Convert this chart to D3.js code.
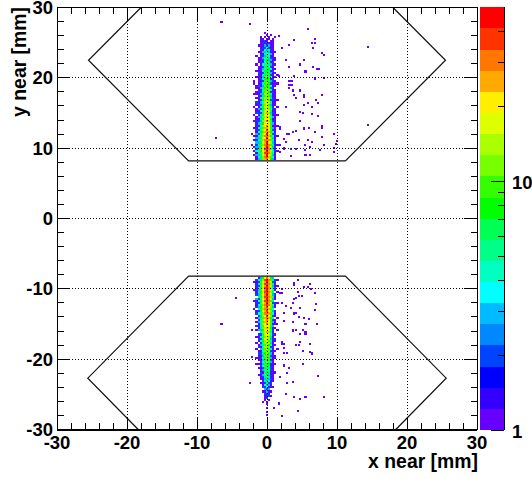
<!DOCTYPE html>
<html><head><meta charset="utf-8">
<script src="https://cdnjs.cloudflare.com/ajax/libs/d3/7.8.5/d3.min.js"></script>
<style>html,body{margin:0;padding:0;background:#fff}svg{display:block}text{font-family:"Liberation Sans",Arial,sans-serif;font-weight:bold;fill:#000}</style>
</head><body><script>
const xTickLabels=[-30,-20,-10,0,10,20,30];
const yTickLabels=[-30,-20,-10,0,10,20,30];
const xTitle="x near [mm]", yTitle="y near [mm]";
const paletteColors=["#6600ff","#3300ff","#0000ff","#0044ff","#0088ff","#00bbff","#00ffff","#00ffc0","#00ff88","#00ff55","#00ff00","#33ff00","#77ff00","#aaff00","#ddff00","#ffee00","#ffaa00","#ff7700","#ff3300","#ff0000"];
const paletteTicks=[1,2,3,4,5,6,7,8,9,10,20,30,40];
const acceptanceLines=[
 [[-18,30],[-25.5,22.5],[-11.2,8.2],[11.2,8.2],[25.5,22.5],[18,30]],
 [[-18.4,-30],[-25.6,-22.7],[-11.2,-8.2],[11.2,-8.2],[25.6,-22.7],[18.4,-30]]
];
const binColumns=[-2.1,-1.8,-1.5,-1.2,-.9,-.6,-.3,0,.3,.6,.9,1.2,1.5,1.8,2.1];
const upperTopRow=26.4;
const upperRows=[
[0,0,0,0,0,0,1,0,0,0,0,0,0,0,0],
[0,0,0,0,0,0,0,1,0,1,0,0,0,0,0],
[0,0,0,0,1,0,1,0,1,0,0,1,0,0,0],
[0,0,0,0,1,1,0,1,1,0,1,0,0,0,0],
[0,0,0,0,1,1,2,1,0,1,1,0,0,0,0],
[0,0,0,0,1,2,1,2,1,1,1,0,0,0,0],
[0,0,0,1,1,1,3,2,3,1,1,0,0,0,0],
[0,0,0,0,1,2,2,4,2,1,1,0,0,0,0],
[0,0,0,0,2,1,4,3,5,2,1,0,0,0,0],
[0,0,0,1,1,3,3,5,3,1,1,1,0,0,0],
[0,0,0,0,1,1,5,4,4,3,1,0,0,0,0],
[0,0,1,0,2,2,3,6,4,1,1,0,0,0,0],
[0,0,0,1,1,3,5,4,7,2,1,1,0,0,0],
[0,0,0,1,1,2,6,6,3,3,1,1,0,0,0],
[0,0,0,1,2,1,4,8,5,1,2,0,0,0,0],
[0,0,1,0,1,4,5,5,7,3,1,1,0,0,0],
[0,0,0,1,1,2,7,9,4,2,1,0,0,0,0],
[0,0,0,1,2,3,4,6,8,4,1,1,0,0,0],
[0,0,1,1,1,4,8,7,5,1,2,0,0,0,0],
[0,0,0,2,1,2,5,10,7,3,1,1,0,0,0],
[0,0,0,1,1,5,7,6,9,2,1,0,1,0,0],
[0,0,1,1,2,3,9,11,5,4,1,1,0,0,0],
[0,0,0,1,2,4,6,8,10,1,2,0,0,0,0],
[0,1,0,1,1,2,10,9,6,3,2,1,0,0,0],
[0,1,0,1,2,5,7,12,8,2,1,1,1,0,0],
[0,0,1,2,1,3,11,8,10,4,1,1,0,0,0],
[0,0,1,1,3,6,8,13,7,2,2,0,0,0,0],
[0,0,0,1,1,4,12,10,11,5,1,1,0,0,0],
[0,0,1,2,2,7,9,14,8,2,2,1,0,0,0],
[0,1,1,1,3,3,13,11,12,4,1,1,0,0,0],
[0,0,0,2,1,6,10,15,9,3,1,1,0,0,0],
[0,0,1,1,4,5,14,12,13,6,2,1,0,0,0],
[0,0,0,1,2,8,11,17,9,2,2,1,1,0,0],
[0,0,2,1,3,4,15,13,14,5,1,1,0,0,0],
[0,0,1,2,2,9,11,19,10,3,1,1,0,0,0],
[0,1,0,1,5,6,16,14,15,6,2,0,1,0,0],
[0,0,1,3,2,8,12,21,11,4,2,1,0,0,0],
[0,0,1,1,4,5,17,15,17,7,1,1,0,0,0],
[0,0,2,2,2,10,13,23,12,3,2,1,0,0,0],
[0,1,0,1,5,6,18,17,16,7,1,1,1,0,0],
[0,0,1,3,3,11,14,26,13,4,3,1,0,0,0],
[0,0,1,1,6,7,20,18,19,8,1,1,0,0,0],
[0,1,2,2,3,12,15,29,14,5,2,1,0,0,0],
[0,0,1,3,7,8,22,21,20,6,3,1,0,0,0],
[0,0,2,1,4,13,17,32,16,9,1,1,1,0,0],
[0,1,1,4,6,9,24,25,22,7,3,1,0,0,0],
[0,0,2,2,5,14,18,36,17,10,2,1,0,0,0],
[0,0,1,4,8,10,27,27,24,8,4,1,0,0,0],
[1,0,3,2,5,15,20,42,19,11,2,2,0,0,0],
[0,1,1,5,9,11,29,30,26,8,4,1,1,0,0],
[0,0,3,3,6,17,22,47,21,12,3,1,0,0,0],
[0,1,2,5,9,12,31,33,28,9,5,1,0,0,0],
[0,0,3,3,7,18,24,44,22,13,3,2,0,0,0],
[1,0,2,6,10,12,33,36,30,10,5,1,1,0,0],
[0,1,3,3,7,19,25,48,23,14,3,2,0,0,0],
[0,0,2,6,10,13,34,38,31,9,5,1,0,0,0],
[0,1,4,4,8,20,26,45,24,13,4,2,1,0,0],
[0,0,1,5,9,14,35,40,30,11,5,1,0,0,0],
[0,1,3,3,7,18,24,43,22,12,3,2,0,0,0],
[0,0,1,4,6,12,28,36,25,9,4,1,0,0,0],
[0,0,1,3,6,12,26,30,20,8,3,1,0,0,0]
];
const lowerTopRow=-8.4;
const lowerRows=[
[0,0,0,1,3,8,18,30,20,8,3,0,0,0,0],
[0,0,2,4,8,11,36,42,32,10,6,2,1,0,0],
[0,1,1,2,9,19,26,48,25,14,2,2,0,0,0],
[0,0,1,5,7,13,38,37,33,11,6,1,0,0,0],
[0,0,2,2,10,20,27,47,26,15,3,1,1,0,0],
[0,0,1,4,7,14,39,40,31,12,5,2,0,0,0],
[0,1,2,3,10,20,28,46,25,13,4,1,0,0,0],
[0,0,1,5,8,13,37,38,33,11,6,0,1,0,0],
[0,0,2,3,9,19,29,45,24,14,3,2,0,0,0],
[0,0,0,5,6,14,36,41,30,12,5,1,0,0,0],
[0,0,3,2,10,18,26,44,25,13,3,1,0,0,0],
[0,1,1,4,7,13,35,37,31,10,6,0,0,0,0],
[0,0,2,2,9,18,27,42,23,13,2,2,1,0,0],
[0,0,1,4,6,12,33,36,29,11,5,1,0,0,0],
[0,0,2,3,8,17,25,41,22,12,3,1,0,0,0],
[0,1,0,4,6,12,31,33,27,9,4,0,0,0,0],
[0,0,1,2,8,16,23,38,21,11,3,2,0,0,0],
[0,0,2,4,5,11,29,30,25,9,4,1,0,0,0],
[0,0,0,2,8,15,21,35,19,11,2,1,0,0,0],
[0,0,1,3,5,10,27,28,24,8,4,0,1,0,0],
[0,0,0,2,7,14,19,32,17,10,2,1,0,0,0],
[0,0,1,3,4,9,25,24,22,7,3,1,0,0,0],
[0,0,0,1,7,13,17,28,16,9,1,1,0,0,0],
[0,0,2,2,4,9,22,21,20,6,3,0,0,0,0],
[0,0,0,1,6,12,15,25,14,8,1,1,0,0,0],
[0,0,1,3,3,8,20,18,18,5,2,0,1,0,0],
[0,0,0,0,5,11,13,23,12,7,1,0,0,0,0],
[0,0,0,2,2,7,18,16,16,4,2,1,0,0,0],
[0,0,1,1,5,9,12,20,11,6,1,0,0,0,0],
[0,0,0,2,2,6,16,14,14,3,2,1,0,0,0],
[0,0,0,1,4,8,11,18,9,5,1,1,0,0,0],
[0,0,1,0,2,5,14,12,13,3,1,0,0,0,0],
[0,0,0,1,3,7,10,16,8,4,1,1,0,0,0],
[0,0,0,2,1,5,13,11,12,2,2,0,0,0,0],
[0,0,1,0,3,6,9,15,7,4,1,0,1,0,0],
[0,0,0,1,1,4,12,10,11,2,1,1,0,0,0],
[0,0,0,2,2,6,8,13,7,3,1,0,0,0,0],
[0,0,0,1,1,3,11,9,10,2,1,1,0,0,0],
[0,0,1,1,2,5,7,12,6,3,1,1,0,0,0],
[0,0,0,1,1,3,10,8,9,2,1,0,0,0,0],
[0,0,0,0,2,4,6,11,5,3,1,0,0,0,0],
[0,0,1,1,1,3,9,7,8,1,1,1,0,0,0],
[0,0,0,0,2,4,5,10,5,2,1,0,0,0,0],
[0,0,0,1,1,2,8,6,7,2,1,0,0,0,0],
[0,0,0,0,1,3,5,9,4,2,1,0,0,0,0],
[0,0,0,0,2,1,7,5,6,1,1,1,0,0,0],
[0,0,0,1,1,3,4,8,3,2,1,0,0,0,0],
[0,0,0,0,1,2,6,4,5,1,1,0,0,0,0],
[0,0,0,0,1,1,3,7,3,2,1,0,0,0,0],
[0,0,0,0,0,2,5,3,4,1,1,0,0,0,0],
[0,0,0,0,1,1,2,5,2,2,0,0,0,0,0],
[0,0,0,0,0,1,4,3,3,1,0,0,0,0,0],
[0,0,0,0,0,2,2,4,1,1,1,0,0,0,0],
[0,0,0,0,0,0,3,2,3,0,0,0,0,0,0],
[0,0,0,0,0,1,1,3,1,1,0,0,0,0,0],
[0,0,0,0,0,0,2,2,2,0,0,0,0,0,0],
[0,0,0,0,0,0,1,1,2,1,0,0,0,0,0],
[0,0,0,0,0,0,1,2,0,0,0,0,0,0,0],
[0,0,0,0,0,0,1,0,1,0,0,0,0,0,0],
[0,0,0,0,0,1,0,1,0,0,0,0,0,0,0],
[0,0,0,0,0,0,0,1,0,0,0,0,0,0,0],
[0,0,0,0,0,0,0,0,0,0,0,0,0,0,0],
[0,0,0,0,0,0,0,1,0,0,0,0,0,0,0]
];
const isolatedX=[-6.5,-2.4,1.7,5.9,6.9,3.9,6.4,6.9,3.2,2.1,6.6,7.9,8.2,2.7,5.3,4.7,3.2,6.6,7.1,7.4,5.5,1.7,3.9,6.9,8.2,3.1,3.5,3.1,3.1,3.5,4.7,3.7,3.9,5.3,5.3,7.9,4.2,7,7.3,5.3,5.8,6.4,2.7,4.7,5.2,6.4,7.3,4.7,1.2,1.9,1.9,7.9,5.3,6,7.8,4.2,3.7,2.8,3.2,6.8,9.6,7.9,2.4,4.6,5.9,6.4,2.7,10,5.4,8.1,9.9,1.9,2.4,2.4,3.4,4.1,5.4,6.1,7.6,9.6,1.9,1.2,5.5,6.2,3.4,9.6,-7.3,14.4,14.4,
4.4,3.9,3.9,6.1,5.8,5.3,6.3,2.1,2.1,1.9,4.4,6.9,4.6,5,3.9,4.2,2.1,2.7,3.7,7,3.4,6.9,4.7,4.2,3.9,2.4,4.6,5.3,6,3.7,2.4,7.2,5.5,1.4,-6.5,-4.4,-2.2,3.7,3.7,4.1,5.2,5.5,5.5,4.7,2.1,2.4,2.1,6.1,4.7,4.6,4.1,2.4,5.2,6.1,6.4,2.4,2.9,-2.1,2.4,3.1,5.1,2.8,1.9,7.3,-2.4,2.8,3.7,2.7,3.9,5.5,8.2,4.7,1.7,1,4.4,2.1,0,0];
const isolatedY=[27.9,27.7,26,26.9,25.5,25.4,24.9,24.9,24.7,24.2,24.2,23.5,23.2,22.5,22.5,21.9,21.5,21.5,21.2,21.2,20.9,20.2,20.2,19.9,20,19.6,19.6,19,18.6,19,18.2,18.2,17.6,17.6,17.3,17.6,17.1,16.9,16.4,16.2,16.4,15.9,15.9,15.2,15,14.8,14.6,13.9,14,13,12.8,13.1,12.8,12.9,12.9,12.5,12.3,12,12,12.3,12,11.6,11.3,11.2,11.2,10.9,10.9,11,10.4,10.4,10.6,10.5,10,9.9,9.9,9.9,9.7,10.2,9.7,9.4,9.4,9.2,9,9,8.9,10,11.4,24.4,13.3,
-8.8,-9.2,-9.5,-9.3,-9.7,-9.8,-10,-10,-10.6,-10.6,-10.4,-10.6,-11,-11,-11.4,-11.3,-12,-12.4,-12,-12.2,-12.7,-13,-12.7,-13.4,-13.5,-13.4,-14,-14.1,-14.3,-14.7,-14.6,-15,-15,-15,-15,-11.3,-15.8,-15.8,-16,-15.8,-15.8,-16.1,-16.4,-16.4,-17.5,-17.9,-17.9,-17.8,-17.6,-18,-18,-18.4,-18.8,-19,-19.2,-19.1,-19.1,-19.7,-20.9,-21.2,-20.7,-22,-22.5,-22.4,-23.4,-23.4,-23.2,-25,-25.4,-25.4,-25.4,-25.7,-26.3,-27,-27.4,-28.1,-27.5,-28];
const isolatedCounts=new Map([["3.7,12.3",2],["3.4,9.9",2]]);

const W=532,H=479,binMM=0.3;
const svg=d3.select("body").append("svg").attr("width",W).attr("height",H);
const x=d3.scaleLinear().domain([-30,30]).range([57,477]);
const y=d3.scaleLinear().domain([-30,30]).range([429.5,7.5]);
const palY=d3.scaleLog().domain([1,50]).range([430,7.3]);
const level=d3.scaleLog().domain([1,50]).range([0,20]);
const colorOf=c=>paletteColors[Math.min(19,Math.floor(level(c)+1e-9))];

const cells=[];
const pushRows=(rows,top)=>rows.forEach((r,i)=>r.forEach((c,j)=>{if(c>0)cells.push({x:binColumns[j],y:top-i*binMM,c});}));
pushRows(upperRows,upperTopRow);pushRows(lowerRows,lowerTopRow);
isolatedX.forEach((v,i)=>{const k=v+","+isolatedY[i];cells.push({x:v,y:isolatedY[i],c:isolatedCounts.get(k)||1});});

const plot=svg.append("g");
plot.selectAll("rect.c").data(cells).join("rect").attr("class","c")
 .attr("x",d=>x(d.x-binMM/2)).attr("y",d=>y(d.y+binMM/2))
 .attr("width",x(binMM)-x(0)).attr("height",y(0)-y(binMM))
 .attr("fill",d=>colorOf(d.c)).attr("shape-rendering","crispEdges");

// grid
const grid=svg.append("g").attr("stroke","#000").attr("stroke-width",1).attr("stroke-dasharray","1 2").attr("shape-rendering","crispEdges");
xTickLabels.slice(1,-1).forEach(v=>grid.append("line").attr("x1",x(v)).attr("x2",x(v)).attr("y1",y(-30)).attr("y2",y(30)));
yTickLabels.slice(1,-1).forEach(v=>grid.append("line").attr("y1",y(v)).attr("y2",y(v)).attr("x1",x(-30)).attr("x2",x(30)));

// acceptance outline
const line=d3.line().x(d=>x(d[0])).y(d=>y(d[1]));
acceptanceLines.forEach(p=>svg.append("path").attr("d",line(p)).attr("fill","none").attr("stroke","#111").attr("stroke-width",1.2));

// frame and ticks
const fr=svg.append("g").attr("stroke","#000").attr("shape-rendering","crispEdges");
fr.append("rect").attr("x",x(-30)).attr("y",y(30)).attr("width",x(30)-x(-30)).attr("height",y(-30)-y(30)).attr("fill","none").attr("stroke-width",1);
fr.append("line").attr("x1",x(-30)).attr("x2",x(30)).attr("y1",y(-30)).attr("y2",y(-30)).attr("stroke-width",2);
fr.append("line").attr("x1",x(-30)).attr("x2",x(30)).attr("y1",y(30)).attr("y2",y(30)).attr("stroke-width",1.5);
d3.range(-30,31,2).forEach(v=>{
  const len=v%10===0?13:6.5;
  fr.append("line").attr("x1",x(v)).attr("x2",x(v)).attr("y1",y(-30)).attr("y2",y(-30)-len);
  fr.append("line").attr("x1",x(v)).attr("x2",x(v)).attr("y1",y(30)).attr("y2",y(30)+len);
  fr.append("line").attr("y1",y(v)).attr("y2",y(v)).attr("x1",x(-30)).attr("x2",x(-30)+len);
  fr.append("line").attr("y1",y(v)).attr("y2",y(v)).attr("x1",x(30)).attr("x2",x(30)-len);
});

// tick labels
const fs=18.5;
xTickLabels.forEach(v=>svg.append("text").attr("x",x(v)).attr("y",449).attr("text-anchor","middle").attr("font-size",fs).text(v));
yTickLabels.forEach(v=>svg.append("text").attr("x",53).attr("y",y(v)+6.5).attr("text-anchor","end").attr("font-size",fs).text(v));
svg.append("text").attr("x",478).attr("y",468).attr("text-anchor","end").attr("font-size",19.4).text(xTitle);
svg.append("text").attr("transform","translate(26,7) rotate(-90)").attr("text-anchor","end").attr("font-size",19.4).text(yTitle);

// palette
const pal=svg.append("g");
paletteColors.forEach((col,i)=>{
  const lo=level.invert(i),hi=level.invert(i+1);
  pal.append("rect").attr("x",480).attr("width",24).attr("y",palY(hi)).attr("height",palY(lo)-palY(hi)).attr("fill",col).attr("shape-rendering","crispEdges");
});
pal.append("line").attr("x1",504).attr("x2",504).attr("y1",7.3).attr("y2",430).attr("stroke","#000").attr("shape-rendering","crispEdges");
paletteTicks.forEach(v=>{
  const len=(v===1||v===10)?13:6.5;
  pal.append("line").attr("x1",504).attr("x2",504-len).attr("y1",palY(v)).attr("y2",palY(v)).attr("stroke","#000").attr("shape-rendering","crispEdges");
});
[1,10].forEach(v=>svg.append("text").attr("x",512).attr("y",palY(v)+8).attr("font-size",fs).text(v));
</script></body></html>
